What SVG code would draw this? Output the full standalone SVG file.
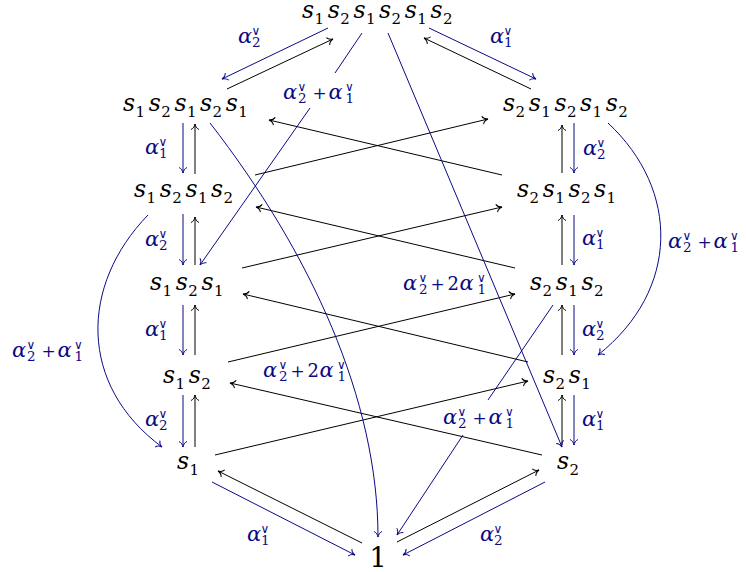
<svg xmlns="http://www.w3.org/2000/svg" width="746" height="572" viewBox="0 0 746 572">
<style>
.n{font-family:"DejaVu Serif","Liberation Serif",serif;font-style:italic;font-size:23.5px;fill:#000}
.nd{font-style:normal;font-size:15px}
.one{font-family:"DejaVu Serif","Liberation Serif",serif;font-size:27px;fill:#000}
.bk{fill:none;stroke:#000;stroke-width:1;marker-end:url(#ak)}
.bl{fill:none;stroke:#0a0a85;stroke-width:1;marker-end:url(#ab)}
.a{font-family:"DejaVu Serif","Liberation Serif",serif;font-style:italic;font-size:21px;fill:#0a0a85}
.v{font-family:"DejaVu Sans",sans-serif;font-style:normal;font-size:12px}
.d{font-style:normal;font-size:13.5px}
.p{font-style:normal;font-size:17px}
.c{font-style:normal;font-size:18px}
</style>
<defs>
<marker id="ak" markerUnits="userSpaceOnUse" orient="auto" refX="0" refY="0" markerWidth="10" markerHeight="10" style="overflow:visible"><path d="M-5.5,-4 C-4.5,-1.5 -2,-0.4 0,0 C-2,0.4 -4.5,1.5 -5.5,4" fill="none" stroke="#000" stroke-width="1"/></marker>
<marker id="ab" markerUnits="userSpaceOnUse" orient="auto" refX="0" refY="0" markerWidth="10" markerHeight="10" style="overflow:visible"><path d="M-5.5,-4 C-4.5,-1.5 -2,-0.4 0,0 C-2,0.4 -4.5,1.5 -5.5,4" fill="none" stroke="#0a0a85" stroke-width="1"/></marker>
</defs>
<rect width="746" height="572" fill="#fff"/>

<g id="connectors">
<path class="bk" d="M227,89 L333,39"/>
<path class="bk" d="M531,89 L424,38"/>
<path class="bk" d="M195,174 L195,124"/>
<path class="bk" d="M195,265 L195,217"/>
<path class="bk" d="M195,355 L195,305"/>
<path class="bk" d="M195,447 L195,395"/>
<path class="bk" d="M562,173 L562,125"/>
<path class="bk" d="M562,265 L562,215"/>
<path class="bk" d="M562,355 L562,305"/>
<path class="bk" d="M562,445 L562,395"/>
<path class="bk" d="M362,543 L218,471"/>
<path class="bk" d="M397,542 L539,470"/>
<path class="bk" d="M502,175 L269,120"/>
<path class="bk" d="M255,175 L488,119"/>
<path class="bk" d="M515,268 L256,207"/>
<path class="bk" d="M242,268 L502,207"/>
<path class="bk" d="M528,362 L243,294"/>
<path class="bk" d="M228,362 L515,294"/>
<path class="bk" d="M542,455 L230,383"/>
<path class="bk" d="M215,455 L528,381"/>
<path class="bl" d="M328,28 L222,79"/>
<path class="bl" d="M429,28 L536,79"/>
<path class="bl" d="M183,123 L183,173"/>
<path class="bl" d="M183,214 L183,265"/>
<path class="bl" d="M183,305 L183,355"/>
<path class="bl" d="M183,395 L183,447"/>
<path class="bl" d="M574,123 L574,173"/>
<path class="bl" d="M574,215 L574,265"/>
<path class="bl" d="M574,305 L574,355"/>
<path class="bl" d="M574,395 L574,445"/>
<path class="bl" d="M212,482 L355,555"/>
<path class="bl" d="M545,482 L403,555"/>
<path class="bl" d="M362,33 L335,73 M310,108 L200,265"/>
<path class="bl" d="M388,33 L562,447"/>
<path class="bl" d="M210,123 C311,253 378,400 378,537"/>
<path class="bl" d="M553,305 L488,400 M463,435 L397,535"/>
<path class="bl" d="M148,215 C80,285 78,385 162,447"/>
<path class="bl" d="M608,123 C680,190 680,290 598,355"/>
</g>

<g id="labels">
<text class="a" transform="translate(238,43)">α<tspan class="v" x="13.5" y="-8">∨</tspan><tspan class="d" x="14" y="3.5">2</tspan></text>
<text class="a" transform="translate(490,43)">α<tspan class="v" x="13.5" y="-8">∨</tspan><tspan class="d" x="14" y="3.5">1</tspan></text>
<text class="a" transform="translate(145,154)">α<tspan class="v" x="13.5" y="-8">∨</tspan><tspan class="d" x="14" y="3.5">1</tspan></text>
<text class="a" transform="translate(145,246)">α<tspan class="v" x="13.5" y="-8">∨</tspan><tspan class="d" x="14" y="3.5">2</tspan></text>
<text class="a" transform="translate(145,336)">α<tspan class="v" x="13.5" y="-8">∨</tspan><tspan class="d" x="14" y="3.5">1</tspan></text>
<text class="a" transform="translate(145,426)">α<tspan class="v" x="13.5" y="-8">∨</tspan><tspan class="d" x="14" y="3.5">2</tspan></text>
<text class="a" transform="translate(583,155)">α<tspan class="v" x="13.5" y="-8">∨</tspan><tspan class="d" x="14" y="3.5">2</tspan></text>
<text class="a" transform="translate(582,245)">α<tspan class="v" x="13.5" y="-8">∨</tspan><tspan class="d" x="14" y="3.5">1</tspan></text>
<text class="a" transform="translate(582,336)">α<tspan class="v" x="13.5" y="-8">∨</tspan><tspan class="d" x="14" y="3.5">2</tspan></text>
<text class="a" transform="translate(582,426)">α<tspan class="v" x="13.5" y="-8">∨</tspan><tspan class="d" x="14" y="3.5">1</tspan></text>
<text class="a" transform="translate(247,541)">α<tspan class="v" x="13.5" y="-8">∨</tspan><tspan class="d" x="14" y="3.5">1</tspan></text>
<text class="a" transform="translate(480,541)">α<tspan class="v" x="13.5" y="-8">∨</tspan><tspan class="d" x="14" y="3.5">2</tspan></text>
<text class="a" transform="translate(12,357)">α<tspan class="v" x="14.5" y="-8">∨</tspan><tspan class="d" x="15" y="3.5">2</tspan><tspan class="p" x="29.5" y="0">+</tspan><tspan x="45.5" y="0">α</tspan><tspan class="v" x="62" y="-8">∨</tspan><tspan class="d" x="62.5" y="3.5">1</tspan></text>
<text class="a" transform="translate(283,99)">α<tspan class="v" x="14.5" y="-8">∨</tspan><tspan class="d" x="15" y="3.5">2</tspan><tspan class="p" x="29.5" y="0">+</tspan><tspan x="45.5" y="0">α</tspan><tspan class="v" x="62" y="-8">∨</tspan><tspan class="d" x="62.5" y="3.5">1</tspan></text>
<text class="a" transform="translate(668,248)">α<tspan class="v" x="14.5" y="-8">∨</tspan><tspan class="d" x="15" y="3.5">2</tspan><tspan class="p" x="29.5" y="0">+</tspan><tspan x="45.5" y="0">α</tspan><tspan class="v" x="62" y="-8">∨</tspan><tspan class="d" x="62.5" y="3.5">1</tspan></text>
<text class="a" transform="translate(443,424)">α<tspan class="v" x="14.5" y="-8">∨</tspan><tspan class="d" x="15" y="3.5">2</tspan><tspan class="p" x="29.5" y="0">+</tspan><tspan x="45.5" y="0">α</tspan><tspan class="v" x="62" y="-8">∨</tspan><tspan class="d" x="62.5" y="3.5">1</tspan></text>
<text class="a" transform="translate(403,290)">α<tspan class="v" x="15.5" y="-8">∨</tspan><tspan class="d" x="16" y="3.5">2</tspan><tspan class="p" x="27.5" y="0">+</tspan><tspan class="c" x="44.5" y="0">2</tspan><tspan x="56.5" y="0">α</tspan><tspan class="v" x="74" y="-8">∨</tspan><tspan class="d" x="74.5" y="3.5">1</tspan></text>
<text class="a" transform="translate(263,377)">α<tspan class="v" x="15.5" y="-8">∨</tspan><tspan class="d" x="16" y="3.5">2</tspan><tspan class="p" x="27.5" y="0">+</tspan><tspan class="c" x="44.5" y="0">2</tspan><tspan x="56.5" y="0">α</tspan><tspan class="v" x="74" y="-8">∨</tspan><tspan class="d" x="74.5" y="3.5">1</tspan></text>
</g>

<g id="n-s1s2s1s2s1s2"><text class="n" y="18"><tspan x="302">s</tspan><tspan class="nd" x="314.5" y="24">1</tspan><tspan x="327.7" y="18">s</tspan><tspan class="nd" x="340.2" y="24">2</tspan><tspan x="353.4" y="18">s</tspan><tspan class="nd" x="365.9" y="24">1</tspan><tspan x="379.1" y="18">s</tspan><tspan class="nd" x="391.6" y="24">2</tspan><tspan x="404.8" y="18">s</tspan><tspan class="nd" x="417.3" y="24">1</tspan><tspan x="430.5" y="18">s</tspan><tspan class="nd" x="443" y="24">2</tspan></text></g>
<g id="n-s1s2s1s2s1"><text class="n" y="111"><tspan x="123">s</tspan><tspan class="nd" x="135.5" y="117">1</tspan><tspan x="148.7" y="111">s</tspan><tspan class="nd" x="161.2" y="117">2</tspan><tspan x="174.4" y="111">s</tspan><tspan class="nd" x="186.9" y="117">1</tspan><tspan x="200.1" y="111">s</tspan><tspan class="nd" x="212.6" y="117">2</tspan><tspan x="225.8" y="111">s</tspan><tspan class="nd" x="238.3" y="117">1</tspan></text></g>
<g id="n-s2s1s2s1s2"><text class="n" y="111"><tspan x="503">s</tspan><tspan class="nd" x="515.5" y="117">2</tspan><tspan x="528.7" y="111">s</tspan><tspan class="nd" x="541.2" y="117">1</tspan><tspan x="554.4" y="111">s</tspan><tspan class="nd" x="566.9" y="117">2</tspan><tspan x="580.1" y="111">s</tspan><tspan class="nd" x="592.6" y="117">1</tspan><tspan x="605.8" y="111">s</tspan><tspan class="nd" x="618.3" y="117">2</tspan></text></g>
<g id="n-s1s2s1s2"><text class="n" y="197"><tspan x="134">s</tspan><tspan class="nd" x="146.5" y="203">1</tspan><tspan x="159.7" y="197">s</tspan><tspan class="nd" x="172.2" y="203">2</tspan><tspan x="185.4" y="197">s</tspan><tspan class="nd" x="197.9" y="203">1</tspan><tspan x="211.1" y="197">s</tspan><tspan class="nd" x="223.6" y="203">2</tspan></text></g>
<g id="n-s2s1s2s1"><text class="n" y="197"><tspan x="517">s</tspan><tspan class="nd" x="529.5" y="203">2</tspan><tspan x="542.7" y="197">s</tspan><tspan class="nd" x="555.2" y="203">1</tspan><tspan x="568.4" y="197">s</tspan><tspan class="nd" x="580.9" y="203">2</tspan><tspan x="594.1" y="197">s</tspan><tspan class="nd" x="606.6" y="203">1</tspan></text></g>
<g id="n-s1s2s1"><text class="n" y="290"><tspan x="150">s</tspan><tspan class="nd" x="162.5" y="296">1</tspan><tspan x="175.7" y="290">s</tspan><tspan class="nd" x="188.2" y="296">2</tspan><tspan x="201.4" y="290">s</tspan><tspan class="nd" x="213.9" y="296">1</tspan></text></g>
<g id="n-s2s1s2"><text class="n" y="290"><tspan x="530">s</tspan><tspan class="nd" x="542.5" y="296">2</tspan><tspan x="555.7" y="290">s</tspan><tspan class="nd" x="568.2" y="296">1</tspan><tspan x="581.4" y="290">s</tspan><tspan class="nd" x="593.9" y="296">2</tspan></text></g>
<g id="n-s1s2"><text class="n" y="383"><tspan x="163">s</tspan><tspan class="nd" x="175.5" y="389">1</tspan><tspan x="188.7" y="383">s</tspan><tspan class="nd" x="201.2" y="389">2</tspan></text></g>
<g id="n-s2s1"><text class="n" y="383"><tspan x="543">s</tspan><tspan class="nd" x="555.5" y="389">2</tspan><tspan x="568.7" y="383">s</tspan><tspan class="nd" x="581.2" y="389">1</tspan></text></g>
<g id="n-s1"><text class="n" y="469"><tspan x="177">s</tspan><tspan class="nd" x="189.5" y="475">1</tspan></text></g>
<g id="n-s2"><text class="n" y="469"><tspan x="557">s</tspan><tspan class="nd" x="569.5" y="475">2</tspan></text></g>
<g id="n-1"><text class="one" x="378" y="567" text-anchor="middle">1</text></g>
</svg>
